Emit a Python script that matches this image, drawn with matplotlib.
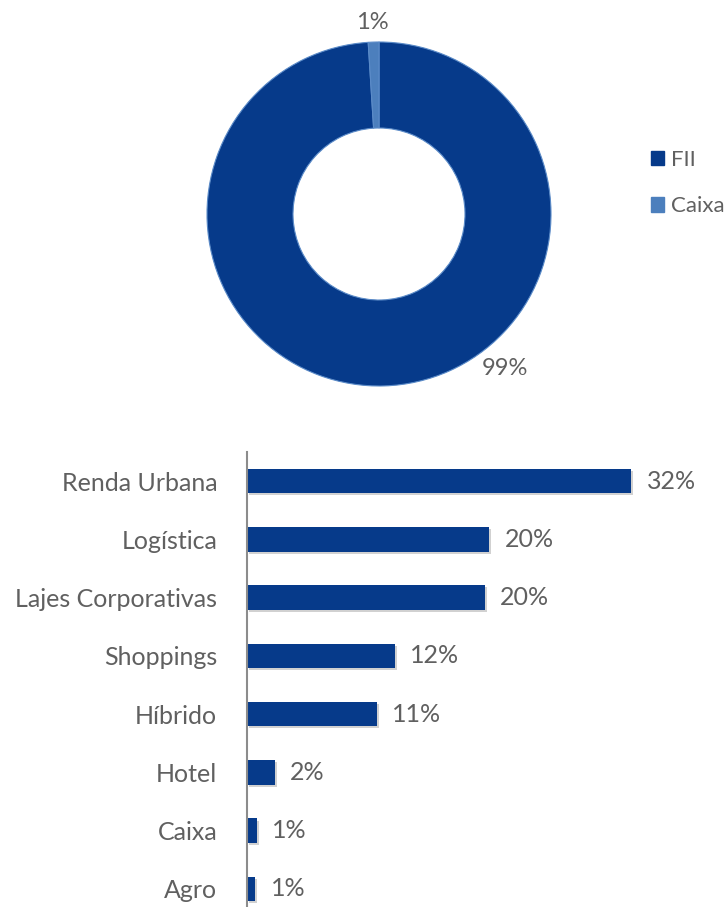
import matplotlib.pyplot as plt
import matplotlib.patheffects as pe
from matplotlib.patches import Patch

plt.rcParams['font.family'] = ['Lato', 'DejaVu Sans']

# allocation: funds vs cash
pie_labels = ['FII', 'Caixa']
pie_values = [99, 1]
pie_colors = ['#063A8A', '#4C7FBD']

# allocation by segment
segments = ['Renda Urbana', 'Logística', 'Lajes Corporativas', 'Shoppings',
            'Híbrido', 'Hotel', 'Caixa', 'Agro']
seg_values = [32.0, 20.2, 19.8, 12.3, 10.8, 2.3, 0.8, 0.7]

text_color = '#606060'
W, H = 725, 907

fig = plt.figure(figsize=(W / 100, H / 100), dpi=100)

# donut chart
cx, cy, r = 379, 214, 172
ax1 = fig.add_axes([(cx - r) / W, (H - cy - r) / H, 2 * r / W, 2 * r / H])
wedges, _ = ax1.pie(pie_values, colors=pie_colors, startangle=90, counterclock=False,
                    radius=1, wedgeprops=dict(width=0.5, edgecolor='#5B8BC8', linewidth=0.8))
ax1.set_xlim(-1, 1)
ax1.set_ylim(-1, 1)
ax1.set_aspect('equal')
ax1.axis('off')
ax1.text(-0.04, 1.115, f'{pie_values[1]}%', ha='center', va='center', fontsize=17,
         color=text_color, clip_on=False)
ax1.text(0.735, -0.9, f'{pie_values[0]}%', ha='center', va='center', fontsize=17,
         color=text_color, clip_on=False)

handles = [Patch(facecolor=c, edgecolor=c) for c in pie_colors]
fig.legend(handles, pie_labels, loc='center left', bbox_to_anchor=(651 / W, 1 - 183 / H),
           frameon=False, fontsize=16, labelcolor=text_color, handlelength=0.6,
           handleheight=0.6, handletextpad=0.3, labelspacing=1.2,
           borderpad=0, borderaxespad=0)

# horizontal bar chart
left, right, top = 247, 700, 452
ax2 = fig.add_axes([left / W, 0, (right - left) / W, (H - top) / H])
ypos = list(range(len(segments)))
bars = ax2.barh(ypos, seg_values, height=0.42, color='#063A8A')
for b in bars:
    b.set_path_effects([pe.SimplePatchShadow(offset=(1.5, -1.5), shadow_rgbFace='#000000', alpha=0.18),
                        pe.Normal()])
for y, v in zip(ypos, seg_values):
    ax2.text(v + 1.3, y, f'{v:.0f}%', va='center', ha='left', fontsize=18, color=text_color)

ax2.set_xlim(0, (right - left) / 12)
ax2.set_ylim(7.31, -0.5)
ax2.set_yticks(ypos)
ax2.set_yticklabels(segments, fontsize=18, color=text_color)
ax2.tick_params(axis='y', length=0, pad=21.5)
ax2.set_xticks([])
for s in ['top', 'right', 'bottom']:
    ax2.spines[s].set_visible(False)
ax2.spines['left'].set_color('#8C8C8C')
ax2.spines['left'].set_linewidth(1.5)

fig.savefig('out.png', dpi=100)
